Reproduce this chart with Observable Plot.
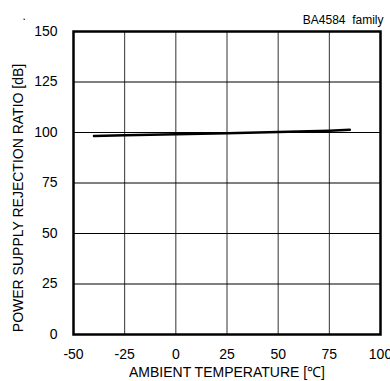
<!DOCTYPE html>
<html>
<head>
<meta charset="utf-8">
<script src="https://cdn.jsdelivr.net/npm/d3@7"></script>
<script src="https://cdn.jsdelivr.net/npm/@observablehq/plot@0.6"></script>
<style>
  html, body { margin: 0; padding: 0; background: #fff; }
  #chart { width: 390px; height: 381px; }
</style>
</head>
<body>
<div id="chart"></div>
<script>
const temperatures = [-40, -25, 0, 25, 50, 75, 85];
const psrr = [98.3, 98.7, 99.1, 99.6, 100.3, 100.9, 101.3];
const xTicks = [-50, -25, 0, 25, 50, 75, 100];
const yTicks = [0, 25, 50, 75, 100, 125, 150];
const xLabel = "AMBIENT TEMPERATURE [\u2103]";
const yLabel = "POWER SUPPLY REJECTION RATIO [dB]";
const partLabel = "BA4584  family";

const data = temperatures.map((t, i) => ({t, v: psrr[i]}));

const chart = Plot.plot({
  width: 390,
  height: 381,
  marginLeft: 73,
  marginRight: 10,
  marginTop: 31,
  marginBottom: 47,
  style: {fontFamily: "'Liberation Sans', Arial, sans-serif", fontSize: "14px", background: "#fff", color: "#000"},
  x: {domain: [-50, 100], ticks: xTicks},
  y: {domain: [0, 150], ticks: yTicks},
  marks: [
    Plot.gridX(xTicks, {stroke: "#333", strokeOpacity: 1, strokeWidth: 1}),
    Plot.gridY(yTicks, {stroke: "#000", strokeOpacity: 1, strokeWidth: 1}),
    Plot.axisX(xTicks, {tickSize: 0, tickPadding: 15, fontSize: 14, label: null, tickFormat: d => String(d)}),
    Plot.axisY(yTicks, {tickSize: 0, tickPadding: 16, fontSize: 14, label: null, tickFormat: d => String(d)}),
    Plot.frame({stroke: "#000", strokeWidth: 2.5}),
    Plot.line(data, {x: "t", y: "v", stroke: "#000", strokeWidth: 2.5}),
    Plot.text([xLabel], {frameAnchor: "bottom", dy: 38, fontSize: 14, lineAnchor: "middle", text: d => d}),
    Plot.text([yLabel], {frameAnchor: "left", dx: -55, dy: 15, rotate: -90, fontSize: 14, textAnchor: "middle", lineAnchor: "middle", text: d => d}),
    Plot.text([partLabel], {frameAnchor: "top-right", dx: 3, dy: -16, fontSize: 12, textAnchor: "end", text: d => d}),
    Plot.text(["."], {frameAnchor: "top-left", dx: -51, dy: -20, fontSize: 12, text: d => d})
  ]
});
document.getElementById("chart").appendChild(chart);
</script>
</body>
</html>
